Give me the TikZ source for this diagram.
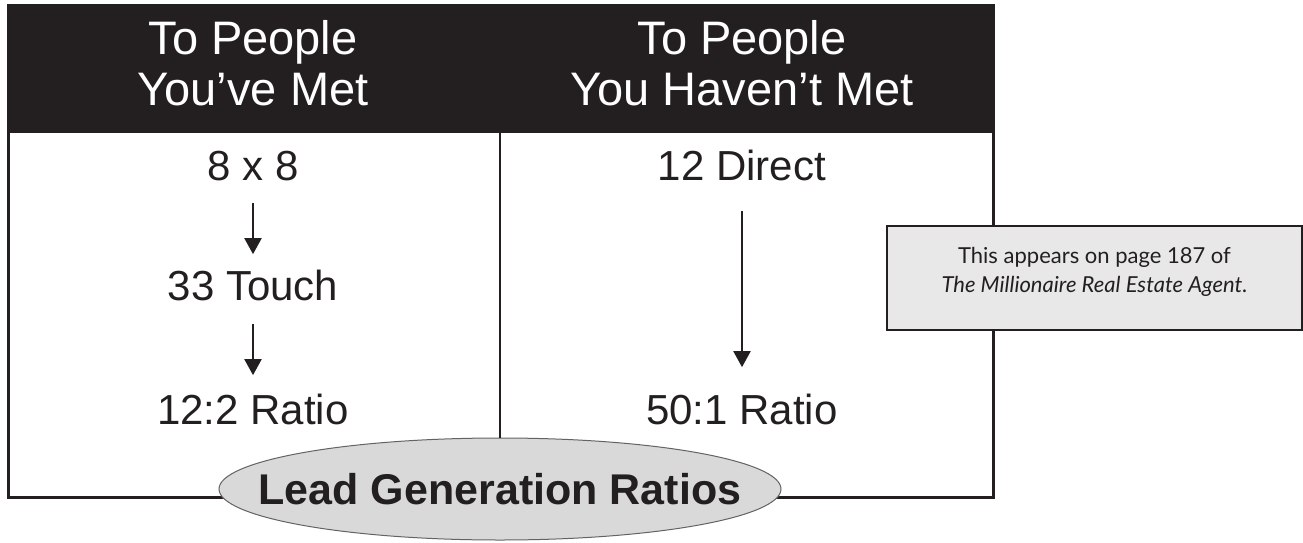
\documentclass[tikz,border=0pt]{standalone}
\usepackage{fontspec}
\setmainfont{Liberation Sans}
\newfontfamily\notefont{Lato}
\usetikzlibrary{shapes,arrows.meta}
\definecolor{ink}{HTML}{231F20}
\definecolor{ovalgray}{HTML}{D9D9D9}
\definecolor{notegray}{HTML}{E8E8E8}

\begin{document}
\begin{tikzpicture}[x=0.5pt,y=-0.5pt]
        \tikzstyle{head}=[text=white,align=center,font=\fontsize{23.5}{25.5}\selectfont]
        \tikzstyle{item}=[text=ink,inner sep=0pt,anchor=base,font=\fontsize{21}{25}\selectfont]
        \tikzstyle{down}=[-{Triangle[length=8pt,width=8.5pt]},line width=1pt,draw=ink]
        \tikzstyle{oval}=[ellipse,draw=ink!70,fill=ovalgray,line width=0.5pt,inner sep=0pt,minimum width=281pt,minimum height=51pt]
        \tikzstyle{notebox}=[rectangle,draw=ink,fill=notegray,line width=1pt,minimum width=207.5pt,minimum height=52pt]
        \useasboundingbox (0,0) rectangle (1303,542);
        % frame and header band
        \fill[ink] (8,5) rectangle (993,133);
        \draw[ink,line width=1.5pt] (8,5) rectangle (993,497);
        \coordinate (divtop) at (500,133);
        % column headers
        \node[head] (metL) at (253,63) {To People\\You've Met};
        \node[head] (metR) at (742,63) {To People\\You Haven't Met};
        % left column
        \node[item] (eight) at (253,180) {8 x 8};
        \node[item] (touch) at (253,300) {33 Touch};
        \node[item] (ratioL) at (253,424) {12:2 Ratio};
        \draw[down,shorten <=11pt,shorten >=7.5pt] (eight.south) -- (touch.north);
        \draw[down,shorten <=11.5pt,shorten >=9pt] (touch.south) -- (ratioL.north);
        % right column
        \node[item] (direct) at (742,180) {12 Direct};
        \node[item] (ratioR) at (742,424) {50:1 Ratio};
        \draw[down,shorten <=15pt,shorten >=13pt] (direct.south) -- (ratioR.north);
        % title oval
        \node[oval,label={[text=ink,font=\fontsize{21.5}{25}\bfseries\selectfont]center:Lead Generation Ratios}] (title) at (500,489) {};
        \draw[ink,line width=0.75pt] (divtop) -- (title.north);
        % side note
        \node[notebox] (note) at (1094.5,278) {};
        \node[align=center,text=ink,font=\notefont\fontsize{11}{14.5}\selectfont] (notetext) at ([yshift=3pt]note.center) {This appears on page 187 of\\\textit{The Millionaire Real Estate Agent.}};
\end{tikzpicture}
\end{document}
